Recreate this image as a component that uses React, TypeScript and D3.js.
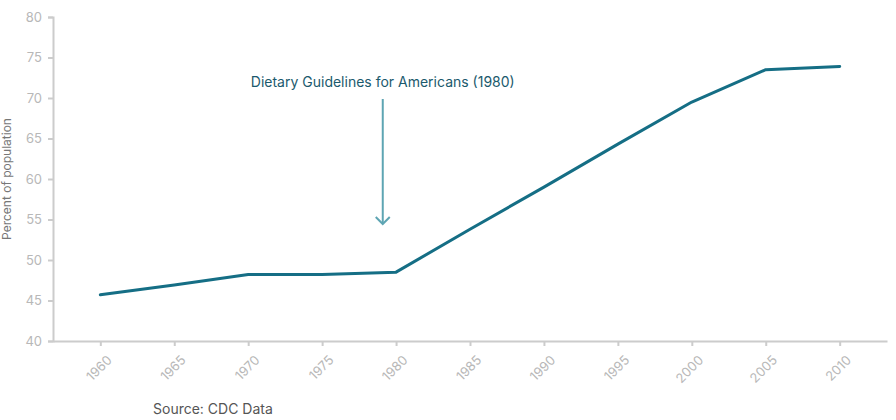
import { useEffect, useRef } from 'react'
import * as d3 from 'd3'

const years = [1960, 1965, 1970, 1975, 1980, 1985, 1990, 1995, 2000, 2005, 2010]
const percents = [45.7, 46.9, 48.2, 48.2, 48.5, 53.8, 59.0, 64.3, 69.5, 73.5, 73.9]
const yTicks = [40, 45, 50, 55, 60, 65, 70, 75, 80]
const annotationYear = 1979.1
const annotationText = 'Dietary Guidelines for Americans (1980)'

export default function App() {
  const svgRef = useRef<SVGSVGElement>(null)
  const width = 896
  const height = 420

  useEffect(() => {
    if (!svgRef.current) return
    const svg = d3.select(svgRef.current)
    svg.selectAll('*').remove()

    const left = 53
    const right = 887
    const top = 17
    const bottom = 341
    const font = 'Inter, "Open Sans", sans-serif'

    const x = d3.scaleLinear().domain([1956.8, 2013.2]).range([left, right])
    const y = d3.scaleLinear().domain([40, 80]).range([bottom, top])

    // y axis
    const yAxis = svg.append('g').attr('transform', `translate(${left},0)`)
      .call(d3.axisLeft(y).tickValues(yTicks).tickSize(5).tickPadding(6))
    yAxis.select('.domain').attr('stroke', '#cccccc').attr('stroke-width', 2)
    yAxis.selectAll('.tick line').attr('stroke', '#cccccc').attr('stroke-width', 2)
    yAxis.selectAll('.tick text')
      .attr('fill', '#b8b8b8')
      .style('font-size', '13px')
      .style('font-family', font)

    // x axis
    const xAxis = svg.append('g').attr('transform', `translate(0,${bottom})`)
      .call(d3.axisBottom(x).tickValues(years).tickFormat(d3.format('d')).tickSize(5).tickSizeOuter(0))
    xAxis.select('.domain').attr('stroke', '#cccccc').attr('stroke-width', 2)
    xAxis.selectAll('.tick line').attr('stroke', '#cccccc').attr('stroke-width', 2)
    xAxis.selectAll('.tick text')
      .attr('fill', '#b8b8b8')
      .attr('text-anchor', 'end')
      .attr('dy', '0.35em')
      .attr('transform', 'translate(3,11) rotate(-45)')
      .style('font-size', '13px')
      .style('font-family', font)

    svg.append('text')
      .attr('transform', `translate(11,${(top + bottom) / 2}) rotate(-90)`)
      .attr('text-anchor', 'middle')
      .style('font-size', '12px')
      .style('font-family', font)
      .style('fill', '#777777')
      .text('Percent of population')

    const line = d3.line<number>()
      .x((_, i) => x(years[i]))
      .y((d) => y(d))

    svg.append('path')
      .attr('d', line(percents))
      .attr('fill', 'none')
      .attr('stroke', '#156e85')
      .attr('stroke-width', 3)
      .attr('stroke-linejoin', 'round')
      .attr('stroke-linecap', 'round')

    // annotation
    const ax = x(annotationYear)
    svg.append('text')
      .attr('x', ax)
      .attr('y', 87)
      .attr('text-anchor', 'middle')
      .style('font-size', '14px')
      .style('font-family', font)
      .style('fill', '#1b5a6d')
      .text(annotationText)

    svg.append('line')
      .attr('x1', ax).attr('x2', ax)
      .attr('y1', 99).attr('y2', 224)
      .attr('stroke', '#5ea5b3')
      .attr('stroke-width', 2)
    svg.append('path')
      .attr('d', `M${ax - 7},${217} L${ax},${224} L${ax + 7},${217}`)
      .attr('fill', 'none')
      .attr('stroke', '#5ea5b3')
      .attr('stroke-width', 2)

    svg.append('text')
      .attr('x', 153)
      .attr('y', 414)
      .style('font-size', '14px')
      .style('font-family', font)
      .style('fill', '#555555')
      .text('Source: CDC Data')
  }, [])

  return (
    <svg ref={svgRef} width={width} height={height}
      style={{ position: 'absolute', left: 0, top: 0, background: '#fff' }} />
  )
}
